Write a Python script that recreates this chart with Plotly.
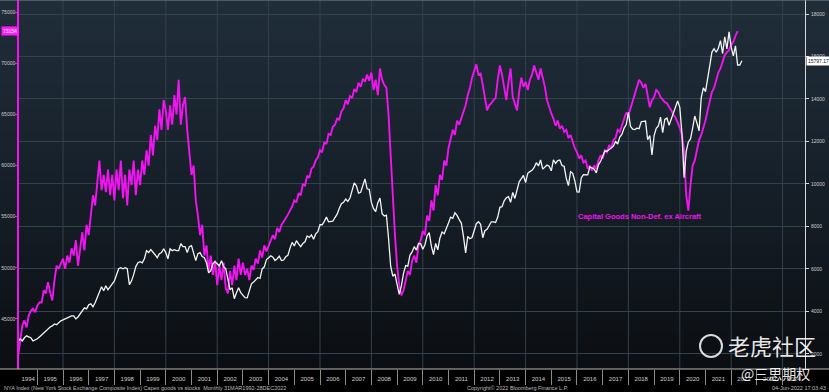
import base64, struct, zlib
import plotly.graph_objects as go

# ---------------- data ----------------
start_year, start_month = 1994, 3  # first plotted month (Mar 1994)

capex_values = [
    # 1994 (Mar-Dec)
    39800, 41400, 43200, 44350, 44850, 44150, 45350, 45800, 46000, 45650,
    # 1995
    46300, 46600, 46600, 47800, 47500, 48600, 47600, 46800, 48750, 50200, 49900, 50500,
    # 1996
    50900, 49900, 51200, 50500, 51900, 51200, 52700, 50200, 52200, 53500, 51700, 54200,
    # 1997
    53200, 55100, 57100, 56100, 58100, 60500, 57600, 59100, 57400, 59600, 57100, 59100,
    # 1998
    56600, 59600, 57600, 60500, 56800, 59100, 56100, 59600, 58100, 60500, 57100, 59600,
    # 1999
    58100, 60500, 59100, 61500, 60000, 63000, 61000, 63900, 62500, 65500, 63500, 66400,
    # 2000
    65400, 63500, 65900, 64000, 66900, 65000, 68400, 64000, 65900, 66700, 63500, 61500,
    # 2001
    59100, 60000, 56600, 55100, 53200, 54200, 51200, 52200, 49700, 51200, 49300, 50700,
    # 2002
    48300, 50200, 48800, 50500, 48000, 47500, 49700, 48300, 50200, 48800, 50900, 49300,
    # 2003
    50500, 49300, 49900, 48800, 50200, 49800, 50900, 50400, 51700, 51000, 52200, 51600,
    # 2004
    52200, 52600, 53200, 52800, 53900, 53500, 54200, 54500, 54800, 55200, 55600, 56000,
    # 2005
    56600, 56400, 57300, 57100, 58200, 58000, 59000, 58800, 59700, 59900, 60500, 60800,
    # 2006
    61500, 61300, 62300, 62100, 63100, 63000, 63800, 64000, 64600, 64500, 65300, 65600,
    # 2007
    66400, 66000, 66800, 66600, 67500, 67200, 68100, 67700, 68500, 68200, 68900, 68300,
    # 2008
    69100, 67400, 68400, 66900, 69500, 68400, 67900, 67600, 65000, 61500, 57100, 53200,
    # 2009
    50200, 48300, 47300, 47800, 48800, 49700, 49300, 50700, 51200, 50500, 52200, 52700,
    # 2010
    53600, 53200, 55100, 54600, 56600, 55600, 58100, 57100, 59100, 58600, 60500, 60000,
    # 2011
    61700, 62500, 63500, 63000, 64400, 64000, 64700, 65400, 65900, 66900, 67600, 68600,
    # 2012
    69300, 69900, 68900, 69000, 67900, 66400, 65400, 65900, 66100, 66400, 66600, 68400,
    # 2013
    69800, 68900, 67400, 66400, 68200, 69500, 66700, 66100, 65400, 67200, 68600, 67700,
    # 2014
    68200, 67400, 68400, 68900, 69800, 69100, 68400, 69500, 68600, 67700, 66400, 65700,
    # 2015
    65100, 64600, 63900, 64400, 63600, 63900, 63300, 63500, 62700, 63000, 62300, 61700,
    # 2016
    61300, 60700, 61000, 60300, 60500, 59700, 60000, 59500, 60000, 59700, 60500, 61000,
    # 2017
    60700, 61500, 61300, 62000, 61700, 62500, 62700, 63500, 63300, 63900, 64600, 65200,
    # 2018
    64900, 65600, 66400, 66900, 67600, 68400, 68100, 67600, 68000, 66900, 65700, 66400,
    # 2019
    66700, 67400, 67200, 66700, 66400, 66200, 66100, 65800, 65400, 65000, 64700, 64200,
    # 2020
    63700, 63000, 61500, 57100, 55600, 58100, 60000, 60500, 61500, 62500, 63000, 63700,
    # 2021
    64400, 65400, 66200, 67200, 67600, 68400, 69100, 69500, 70100, 70800, 71100, 71300,
    # 2022 (Jan-Apr)
    71800, 72100, 72700, 73154,
]

nya_values = [
    # 1994 (Mar-Dec)
    2600, 2610, 2710, 2610, 2760, 2850, 2800, 2760, 2610, 2660,
    # 1995
    2710, 2800, 2900, 2990, 3080, 3180, 3270, 3320, 3410, 3370, 3460, 3560,
    # 1996
    3600, 3650, 3700, 3740, 3790, 3790, 3650, 3740, 3890, 3980, 4170, 4120,
    # 1997
    4310, 4360, 4220, 4410, 4690, 4880, 5160, 4970, 5210, 5020, 5160, 5260,
    # 1998
    5440, 5730, 6010, 6060, 6010, 6060, 6010, 5260, 5440, 5730, 6110, 6290,
    # 1999
    6340, 6290, 6480, 6860, 6770, 6910, 6810, 6670, 6530, 6720, 6770, 6950,
    # 2000
    6770, 6480, 6950, 6860, 6910, 6860, 6860, 7190, 7050, 7050, 6770, 7050,
    # 2001
    7100, 6670, 6390, 6720, 6770, 6580, 6530, 6290, 5820, 5920, 6250, 6340,
    # 2002
    6250, 6150, 6390, 6110, 6010, 5540, 5020, 5110, 4600, 4880, 5110, 4880,
    # 2003
    4750, 4650, 4640, 4980, 5300, 5380, 5480, 5600, 5560, 6000, 6100, 6440,
    # 2004
    6530, 6620, 6550, 6400, 6480, 6600, 6400, 6420, 6570, 6640, 6980, 7250,
    # 2005
    7080, 7330, 7180, 7050, 7200, 7280, 7550, 7480, 7600, 7400, 7650, 7750,
    # 2006
    8080, 8080, 8240, 8440, 8220, 8230, 8250, 8420, 8580, 8840, 9070, 9140,
    # 2007
    9290, 9180, 9340, 9700, 10050, 9910, 9570, 9610, 9960, 10240, 9770, 9740,
    # 2008
    9130, 8840, 8700, 9120, 9340, 8600, 8490, 8530, 7450, 6130, 5660, 5760,
    # 2009
    5270, 4800, 5200, 5790, 6160, 6130, 6640, 6800, 7050, 6890, 7200, 7190,
    # 2010
    6930, 7140, 7560, 7710, 7070, 6670, 7200, 6900, 7460, 7740, 7660, 7960,
    # 2011
    8160, 8440, 8380, 8640, 8520, 8320, 8160, 7520, 6760, 7530, 7420, 7480,
    # 2012
    7860, 8130, 8220, 8100, 7470, 7800, 7870, 8020, 8220, 8220, 8190, 8440,
    # 2013
    8900, 8930, 9210, 9350, 9400, 9140, 9600, 9320, 9730, 10100, 10250, 10400,
    # 2014
    10060, 10500, 10580, 10640, 10780, 11000, 10850, 11130, 10700, 10800, 10890, 10840,
    # 2015
    10620, 11130, 10970, 11100, 11130, 10870, 10830, 10260, 9920, 10580, 10500, 10140,
    # 2016
    9630, 9620, 10280, 10440, 10420, 10430, 10800, 10740, 10710, 10520, 10900, 11060,
    # 2017
    11320, 11550, 11540, 11630, 11700, 11780, 12000, 11880, 12210, 12340, 12630, 12800,
    # 2018
    13370, 12710, 12580, 12560, 12630, 12600, 12930, 12940, 12960, 12080, 12280, 11370,
    # 2019
    12280, 12620, 12730, 13150, 12420, 13040, 13100, 12760, 13040, 13300, 13600, 13910,
    # 2020
    13610, 12380, 10300, 11540, 11980, 12120, 12630, 13200, 12870, 12500, 14050, 14520,
    # 2021
    14350, 14880, 15570, 16210, 16370, 16200, 16390, 16750, 16140, 16930, 16360, 17160,
    # 2022 (Jan-Jun)
    16440, 16030, 16500, 15600, 15600, 15797.17,
]

year_labels = [str(y) for y in range(1994, 2025)]
left_ticks = [45000, 50000, 55000, 60000, 65000, 70000, 75000]
right_ticks = [2000, 4000, 6000, 8000, 10000, 12000, 14000, 16000, 18000]

series_name = "Capital Goods Non-Def. ex Aircraft"
footer_left = "NYA Index (New York Stock Exchange Composite Index) Capex goods vs stocks  Monthly 31MAR1992-28DEC2022"
footer_mid = "Copyright\u00a9 2022 Bloomberg Finance L.P."
footer_right = "04-Jun-2022 17:03:43"

# monthly time axis (decimal years)
def month_axis(n):
    return [start_year + (start_month - 1 + i) / 12.0 for i in range(n)]

x_capex = month_axis(len(capex_values))
x_nya = month_axis(len(nya_values))

# ---------------- geometry ----------------
W, H = 829, 392
ML, MR, MT, MB = 19, 24, 0, 23
PW, PH = W - ML - MR, H - MT - MB
x_range = [1994.288, 2024.872]

MAGENTA = "#f014f0"
GRID = "#34414e"
TXT = "#cfcfcf"

# background gradient image (1 x N png)
def gradient_png(stops, h=256):
    rows = []
    for i in range(h):
        t = i / (h - 1)
        for j in range(len(stops) - 1):
            t0, c0 = stops[j]
            t1, c1 = stops[j + 1]
            if t0 <= t <= t1:
                f = (t - t0) / (t1 - t0) if t1 > t0 else 0
                c = [round(c0[k] + (c1[k] - c0[k]) * f) for k in range(3)]
                break
        rows.append(b"\x00" + bytes(c))
    raw = b"".join(rows)

    def chunk(tag, data):
        return struct.pack(">I", len(data)) + tag + data + struct.pack(">I", zlib.crc32(tag + data) & 0xFFFFFFFF)

    png = (b"\x89PNG\r\n\x1a\n"
           + chunk(b"IHDR", struct.pack(">IIBBBBB", 1, h, 8, 2, 0, 0, 0))
           + chunk(b"IDAT", zlib.compress(raw))
           + chunk(b"IEND", b""))
    return "data:image/png;base64," + base64.b64encode(png).decode()

bg_src = gradient_png([(0.0, (32, 46, 58)), (0.45, (23, 33, 43)), (1.0, (11, 14, 18))])

fig = go.Figure()
fig.add_trace(go.Scatter(x=x_capex, y=capex_values, mode="lines", yaxis="y",
                         line=dict(color=MAGENTA, width=1.9), hoverinfo="skip", showlegend=False))
fig.add_trace(go.Scatter(x=x_nya, y=nya_values, mode="lines", yaxis="y2",
                         line=dict(color="#f4f4f4", width=1.3), hoverinfo="skip", showlegend=False))

tick_pos = [y + 0.5 for y in range(1994, 2025)]
tick_pos[0] = (x_range[0] + 1995) / 2
tick_pos[-1] = (2024 + x_range[1]) / 2

px = lambda p: (p - ML) / PW          # pixel x -> paper x
py = lambda p: (H - MB - p) / PH      # pixel y -> paper y

shapes = []
for yr in range(1996, 2025, 2):
    shapes.append(dict(type="line", xref="x", yref="paper", x0=yr, x1=yr, y0=0, y1=1,
                       line=dict(color=GRID, width=1), layer="below"))
shapes.append(dict(type="line", xref="paper", yref="paper", x0=px(0), x1=px(W), y0=0, y1=0,
                   line=dict(color="#b8b8b8", width=1)))
shapes.append(dict(type="line", xref="paper", yref="paper", x0=px(0), x1=px(W), y0=1, y1=1,
                   line=dict(color="#7d8790", width=1)))
shapes.append(dict(type="circle", xref="paper", yref="paper", x0=px(700), x1=px(722), y0=py(357), y1=py(335),
                   line=dict(color="rgba(255,255,255,0.85)", width=2)))

tick_font = dict(family="Arial", size=5, color=TXT)

fig.update_layout(
    width=W, height=H,
    margin=dict(l=ML, r=MR, t=MT, b=MB, pad=0),
    paper_bgcolor="#000000", plot_bgcolor="rgba(0,0,0,0)",
    template="none",
    showlegend=False,
    images=[dict(source=bg_src, xref="paper", yref="paper", x=px(0), y=1, sizex=W / PW, sizey=1,
                 sizing="stretch", layer="below", xanchor="left", yanchor="top")],
    shapes=shapes,
    xaxis=dict(range=x_range, tickmode="array", tickvals=tick_pos, ticktext=year_labels,
               ticks="", showgrid=False, zeroline=False, showline=False, automargin=False,
               tickfont=dict(family="Arial", size=6, color=TXT), ticklabelstandoff=5,
               minor=dict(tickmode="array", tickvals=list(range(1995, 2025)), ticks="outside",
                          ticklen=15, tickcolor="#8a8a8a", tickwidth=1, showgrid=False)),
    yaxis=dict(range=[40100, 76200], tickmode="array", tickvals=left_ticks,
               ticktext=[str(v) for v in left_ticks], side="left",
               showline=True, linecolor=MAGENTA, linewidth=1.5, ticks="outside", ticklen=2,
               tickcolor=MAGENTA, showgrid=False, zeroline=False, automargin=False,
               tickfont=tick_font, ticklabelstandoff=-1),
    yaxis2=dict(range=[1290, 18660], tickmode="array", tickvals=right_ticks,
                ticktext=[str(v) for v in right_ticks], side="right", overlaying="y",
                showline=True, linecolor="#d8d8d8", linewidth=1, ticks="outside", ticklen=3,
                tickcolor="#d8d8d8", showgrid=True, gridcolor=GRID, gridwidth=1, zeroline=False,
                automargin=False, tickfont=tick_font, ticklabelstandoff=1),
)

ann = [
    dict(text="<b>" + series_name + "</b>", xref="paper", yref="paper", x=px(640), y=py(216),
         showarrow=False, font=dict(family="Arial", size=7.5, color=MAGENTA), xanchor="center", yanchor="middle"),
    dict(text=str(capex_values[-1]), xref="paper", yref="y", x=0, y=capex_values[-1], xanchor="right",
         yanchor="middle", showarrow=False, bgcolor="#ff1aff", borderpad=1,
         font=dict(family="Arial", size=5, color="#ffffff")),
    dict(text=f"{nya_values[-1]:.2f}", xref="paper", yref="y2", x=1, xshift=1, y=nya_values[-1],
         xanchor="left", yanchor="middle", showarrow=False, bgcolor="#ffffff", borderpad=1,
         font=dict(family="Arial", size=5, color="#111111")),
    dict(text=footer_left, xref="paper", yref="paper", x=px(2), y=py(387.5), xanchor="left",
         yanchor="middle", showarrow=False, font=dict(family="Arial", size=5.5, color="#bdbdbd")),
    dict(text=footer_mid, xref="paper", yref="paper", x=px(518), y=py(387.5), xanchor="center",
         yanchor="middle", showarrow=False, font=dict(family="Arial", size=5.5, color="#bdbdbd")),
    dict(text=footer_right, xref="paper", yref="paper", x=px(828), y=py(387.5), xanchor="right",
         yanchor="middle", showarrow=False, font=dict(family="Arial", size=5.5, color="#bdbdbd")),
    dict(text="老虎社区", xref="paper", yref="paper", x=px(772), y=py(345), xanchor="center",
         yanchor="middle", showarrow=False,
         font=dict(family="Noto Sans CJK SC", size=22, color="rgba(255,255,255,0.92)")),
    dict(text="@三思期权", xref="paper", yref="paper", x=px(812), y=py(373), xanchor="right",
         yanchor="middle", showarrow=False,
         font=dict(family="Noto Sans CJK SC", size=14, color="rgba(255,255,255,0.92)")),
]
fig.update_layout(annotations=ann)

fig.write_html("out.html", config={"displayModeBar": False},
               post_script="document.body.style.margin='0px';document.body.style.padding='0px';"
                           "document.body.style.overflow='hidden';")
